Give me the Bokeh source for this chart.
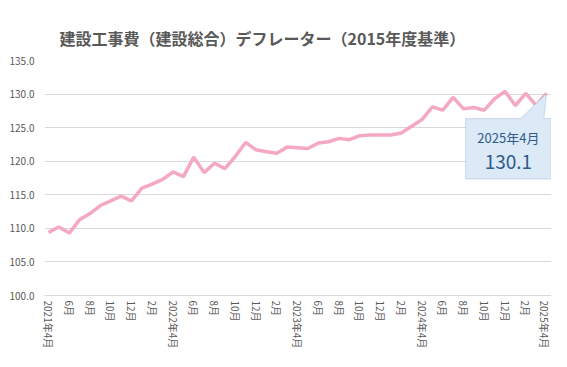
from bokeh.plotting import figure
from bokeh.models import Range1d, FixedTicker, NumeralTickFormatter, PolyAnnotation, Label
from bokeh.embed import file_html
from bokeh.resources import INLINE

# ---- data ----
title_text = "建設工事費（建設総合）デフレーター（2015年度基準）"
start_year = 2021
start_month = 4
values = [109.4, 110.2, 109.3, 111.3, 112.2, 113.4, 114.1, 114.8, 114.1, 116.0,
          116.6, 117.3, 118.4, 117.7, 120.6, 118.3, 119.7, 118.9, 120.7, 122.8,
          121.7, 121.4, 121.2, 122.1, 122.0, 121.9, 122.7, 122.9, 123.4, 123.2,
          123.8, 123.9, 123.9, 123.9, 124.2, 125.2, 126.2, 128.1, 127.6, 129.5,
          127.8, 128.0, 127.6, 129.3, 130.4, 128.3, 130.1, 128.3, 130.1]
y_ticks = [100, 105, 110, 115, 120, 125, 130, 135]

x = list(range(len(values)))
tick_idx = list(range(0, len(values), 2))
tick_labels = {}
for i in tick_idx:
    k = start_month - 1 + i
    yy = start_year + k // 12
    mm = k % 12 + 1
    tick_labels[i] = f"{yy}年{mm}月" if mm == start_month else f"{mm}月"

last_k = start_month - 1 + x[-1]
last_label = f"{start_year + last_k // 12}年{last_k % 12 + 1}月"

FONT = "Noto Sans CJK JP"
GREY = "#595959"

p = figure(width=551, height=351, output_backend="svg", toolbar_location=None,
           x_range=Range1d(-0.386, 48.48), y_range=Range1d(100, 135),
           min_border_left=44, min_border_right=0, min_border_top=60,
           min_border_bottom=50)
p.outline_line_color = None
p.background_fill_color = "white"
p.border_fill_color = "white"

p.title.text = title_text
p.title.text_font = FONT
p.title.text_font_size = "16px"
p.title.text_font_style = "bold"
p.title.text_color = GREY
p.title.align = "left"
p.title.offset = 15
p.title.standoff = 22

# axes
p.yaxis.ticker = FixedTicker(ticks=y_ticks)
p.yaxis.formatter = NumeralTickFormatter(format="0.0")
p.yaxis.axis_line_color = None
p.yaxis.major_tick_line_color = None
p.yaxis.minor_tick_line_color = None
p.yaxis.major_tick_out = 0
p.yaxis.major_label_standoff = 10
p.yaxis.major_label_text_font = FONT
p.yaxis.major_label_text_font_size = "10px"
p.yaxis.major_label_text_color = GREY

p.xaxis.ticker = FixedTicker(ticks=tick_idx)
p.xaxis.major_label_overrides = tick_labels
p.xaxis.major_label_orientation = "vertical"
p.xaxis.axis_line_color = "#D9D9D9"
p.xaxis.major_tick_line_color = None
p.xaxis.minor_tick_line_color = None
p.xaxis.major_tick_out = 0
p.xaxis.major_label_standoff = 5
p.xaxis.major_label_text_font = FONT
p.xaxis.major_label_text_font_size = "10px"
p.xaxis.major_label_text_color = GREY

p.xgrid.grid_line_color = None
p.ygrid.grid_line_color = "#D9D9D9"
p.ygrid.grid_line_width = 1

p.line(x, values, line_color="#F5A9C0", line_width=3.5)

# callout anchored at the last data point
tx, ty = x[-1], values[-1]
box_l, box_r = tx - 7.8, tx + 0.45
box_t, box_b = ty - 3.75, ty - 12.75
tail_a, tail_b = tx - 2.5, tx - 0.25
callout = PolyAnnotation(
    xs=[box_l, tail_a, tx, tail_b, box_r, box_r, box_l],
    ys=[box_t, box_t, ty, box_t, box_t, box_b, box_b],
    fill_color="#DCE9F6", fill_alpha=1.0,
    line_color="#7C9CC6", line_width=1)
p.add_layout(callout)

cx = (box_l + box_r) / 2
p.add_layout(Label(x=cx, y=ty - 6.5, text=last_label, text_font=FONT,
                   text_font_size="13px", text_color="#2E5A8C",
                   text_align="center", text_baseline="middle"))
p.add_layout(Label(x=cx, y=ty - 10.25, text=f"{values[-1]:.1f}", text_font=FONT,
                   text_font_size="19px", text_color="#2E5A8C",
                   text_align="center", text_baseline="middle"))

open("out.html", "w").write(file_html(p, INLINE))
